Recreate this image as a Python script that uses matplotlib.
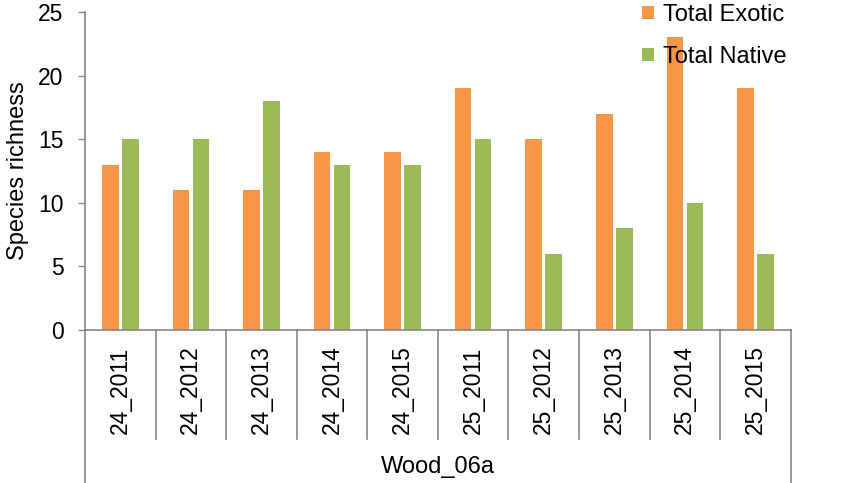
import matplotlib
matplotlib.use("Agg")
import matplotlib.pyplot as plt
import numpy as np

plt.rcParams["font.family"] = ["Liberation Sans", "DejaVu Sans"]

categories = ["24_2011", "24_2012", "24_2013", "24_2014", "24_2015",
              "25_2011", "25_2012", "25_2013", "25_2014", "25_2015"]
exotic = [13, 11, 11, 14, 14, 19, 15, 17, 23, 19]
native = [15, 15, 18, 13, 13, 15, 6, 8, 10, 6]
group_label = "Wood_06a"

W, H = 854, 483
fig = plt.figure(figsize=(W / 100, H / 100), dpi=100)
x0, x1, ytop, ybot = 85, 790.7, 12, 330
ax = fig.add_axes([x0 / W, (H - ybot) / H, (x1 - x0) / W, (ybot - ytop) / H])

axis_col = "#868686"
fs = 16.5
x = np.arange(len(categories))
bw = 0.235
off = 0.142
ax.bar(x - off, exotic, bw, color="#F79646", label="Total Exotic")
ax.bar(x + off, native, bw, color="#9BBB59", label="Total Native")

ax.set_xlim(-0.5, len(categories) - 0.5)
ax.set_ylim(0, 25)
ax.set_yticks(range(0, 26, 5))
ax.tick_params(axis="y", length=5.4, width=1, color=axis_col, labelsize=fs, pad=10)
ax.set_xticks([])
for s in ["top", "right"]:
    ax.spines[s].set_visible(False)
for s in ["left", "bottom"]:
    ax.spines[s].set_color(axis_col)
    ax.spines[s].set_linewidth(1.2)

# category divider lines below the axis
tr = ax.get_xaxis_transform()
h_px = ybot - ytop
y_cat = -(439 - ybot) / h_px
y_out = -(H - ybot + 2) / h_px
for i in range(len(categories) + 1):
    yb = y_out if i in (0, len(categories)) else y_cat
    ax.plot([i - 0.5, i - 0.5], [0, yb], transform=tr, color=axis_col,
            lw=1.2, clip_on=False)

for i, c in enumerate(categories):
    ax.text(i, -(390 - ybot) / h_px, c, transform=tr, rotation=90,
            ha="center", va="center", fontsize=fs)

ax.text((len(categories) - 1) / 2, -(467 - ybot) / h_px, group_label,
        transform=tr, ha="center", va="center", fontsize=17)

fig.text(18 / W, 1 - 171 / H, "Species richness", rotation=90,
         ha="center", va="center", fontsize=17)

fig.legend(loc="upper left", bbox_to_anchor=(642 / W, 1 - 4 / H),
           frameon=False, fontsize=17, handlelength=0.5, handleheight=0.5,
           handletextpad=0.4, labelspacing=0.85, borderpad=0, borderaxespad=0)

fig.savefig("out.png", dpi=100)
